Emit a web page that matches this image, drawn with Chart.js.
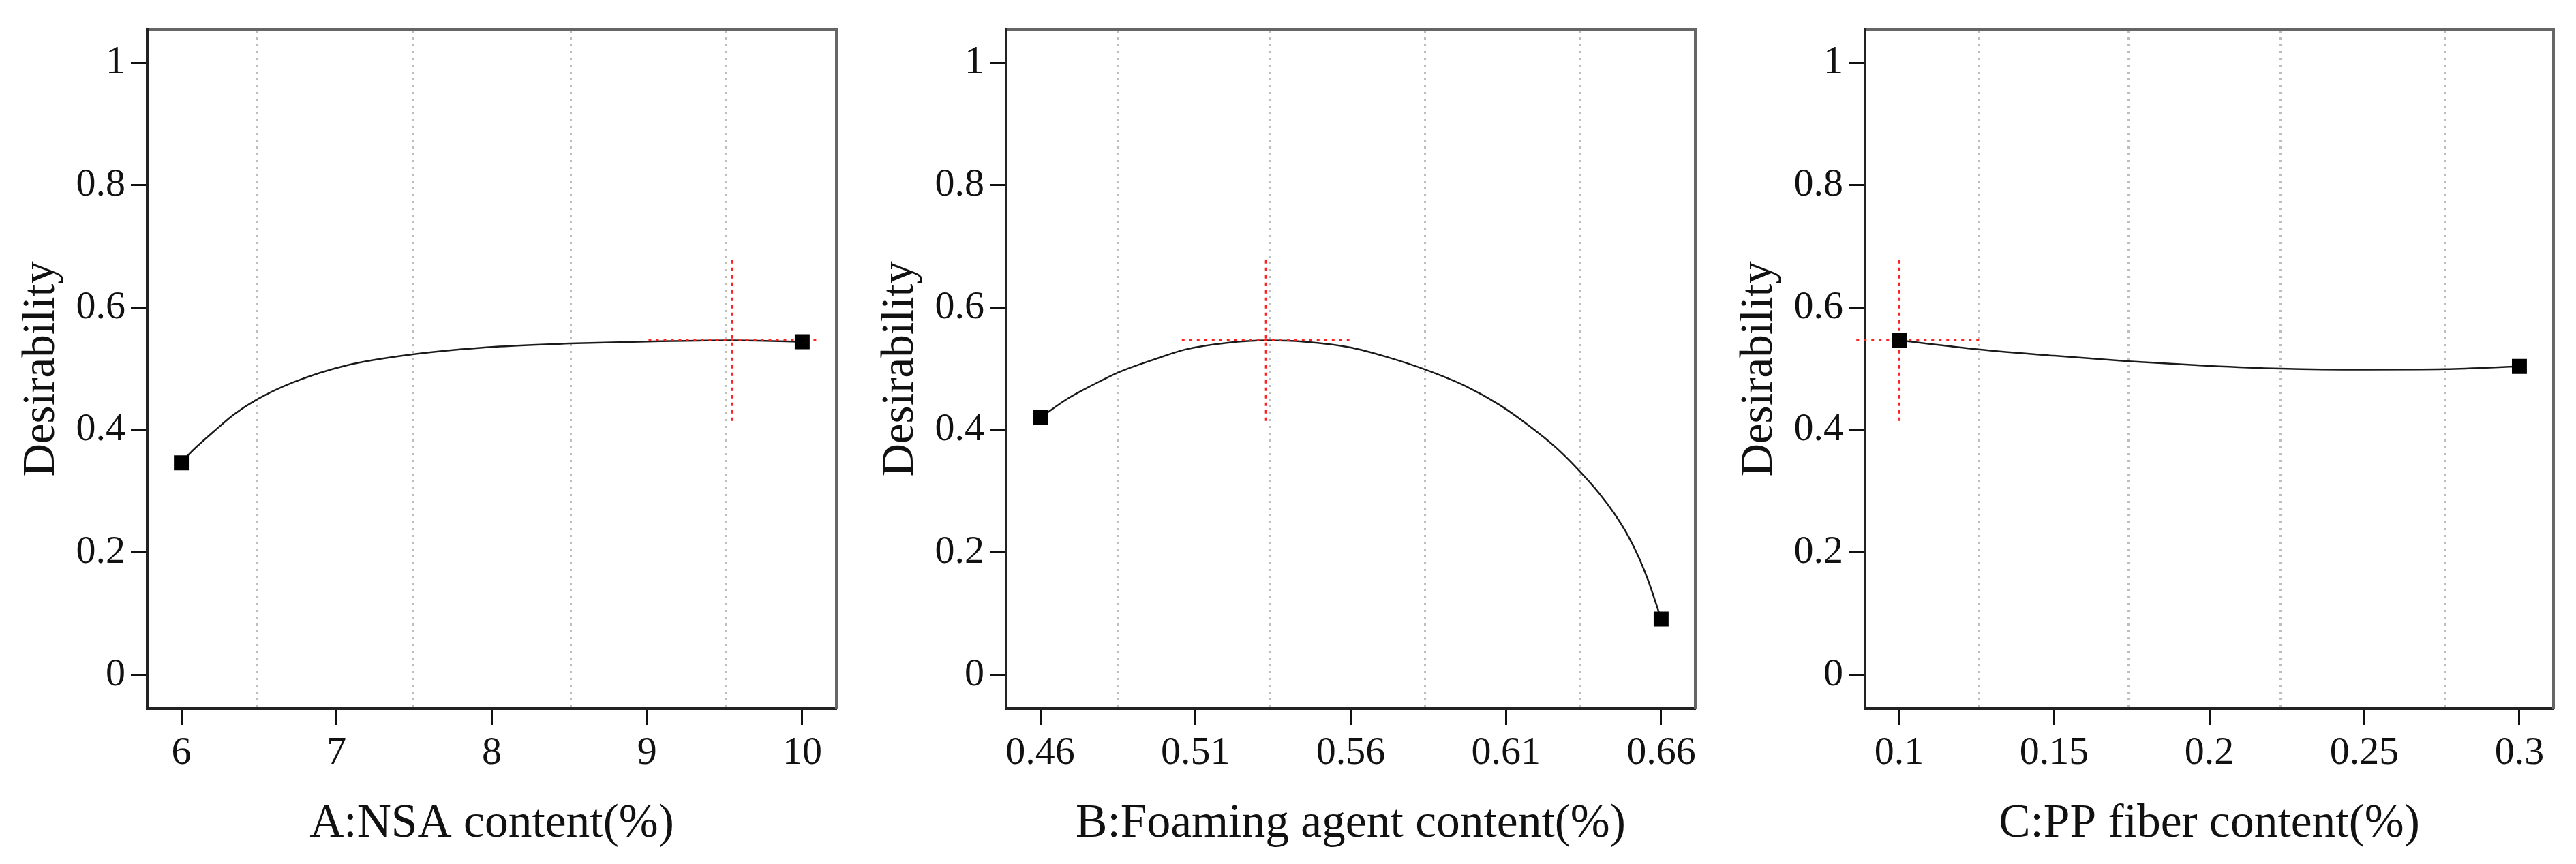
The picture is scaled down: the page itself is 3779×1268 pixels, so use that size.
<!DOCTYPE html>
<html lang="en">
<head>
<meta charset="UTF-8">
<title>Desirability response curves</title>
<script src="https://cdn.jsdelivr.net/npm/chart.js"></script>
<style>
  body { margin: 0; background: #fff; }
  .panel { position: absolute; top: 0; height: 1268px; }
  #p1 { left: 0; width: 1260px; }
  #p2 { left: 1260px; width: 1260px; }
  #p3 { left: 2520px; width: 1259px; }
</style>
</head>
<body>
<div class="panel" id="p1"><canvas id="c1"></canvas></div>
<div class="panel" id="p2"><canvas id="c2"></canvas></div>
<div class="panel" id="p3"><canvas id="c3"></canvas></div>

<script>
// shared y axis
const yTicks = [0, 0.2, 0.4, 0.6, 0.8, 1];
const yTickLabels = ['0', '0.2', '0.4', '0.6', '0.8', '1'];
const yRange = [-0.055, 1.055];
const crossY = [0.415, 0.683];   // span of the red vertical marker

// A: NSA content
const nsaTicks = [6, 7, 8, 9, 10];
const nsaLabels = ['6', '7', '8', '9', '10'];
const nsaRange = [5.78, 10.22];
const nsaGrid = [6.49, 7.49, 8.51, 9.51];
const nsaX = [6.0, 6.05, 6.21, 6.34, 6.49, 6.72, 7.06, 7.49, 8.05, 8.5, 9.0, 9.55, 10.0];
const nsaY = [0.3465, 0.361, 0.398, 0.426, 0.4505, 0.478, 0.5055, 0.5238, 0.5366, 0.5415, 0.5448, 0.5466, 0.5445];
const nsaEndX = [6, 10];
const nsaEndY = [0.3465, 0.5445];
const nsaOpt = [9.55, 0.5466];
const nsaCrossX = [9.01, 10.09];

// B: Foaming agent content
const foamTicks = [0.46, 0.51, 0.56, 0.61, 0.66];
const foamLabels = ['0.46', '0.51', '0.56', '0.61', '0.66'];
const foamRange = [0.449, 0.671];
const foamGrid = [0.485, 0.534, 0.584, 0.634];
const foamX = [0.46, 0.469, 0.477, 0.485, 0.497, 0.507, 0.52, 0.533, 0.545, 0.56, 0.572, 0.584, 0.597, 0.608,
               0.618, 0.626, 0.633, 0.640, 0.645, 0.6495, 0.653, 0.656, 0.658, 0.66];
const foamY = [0.4205, 0.452, 0.474, 0.494, 0.516, 0.532, 0.5425, 0.5466, 0.5445, 0.535, 0.519, 0.499, 0.472, 0.441,
               0.405, 0.372, 0.337, 0.297, 0.263, 0.226, 0.190, 0.152, 0.122, 0.0914];
const foamEndX = [0.46, 0.66];
const foamEndY = [0.4205, 0.0914];
const foamOpt = [0.5327, 0.5466];
const foamCrossX = [0.5056, 0.5596];

// C: PP fiber content
const ppTicks = [0.1, 0.15, 0.2, 0.25, 0.3];
const ppLabels = ['0.1', '0.15', '0.2', '0.25', '0.3'];
const ppRange = [0.089, 0.311];
const ppGrid = [0.1255, 0.174, 0.223, 0.276];
const ppX = [0.1, 0.1255, 0.15, 0.174, 0.2, 0.223, 0.25, 0.276, 0.3];
const ppY = [0.5466, 0.532, 0.5215, 0.5125, 0.505, 0.5005, 0.4988, 0.4995, 0.504];
const ppEndX = [0.1, 0.3];
const ppEndY = [0.5462, 0.504];
const ppOpt = [0.1, 0.5466];
const ppCrossX = [0.0862, 0.1265];

const SERIF = '"Liberation Serif", "Times New Roman", Times, serif';
Chart.defaults.font.family = SERIF;
Chart.defaults.color = '#111';

const pts = (xs, ys) => xs.map((x, i) => ({ x: x, y: ys[i] }));

function makePanel(canvasId, title, xTicks, xLabels, xRange, grid, cx, cy, ex, ey, opt, crossX) {
  new Chart(document.getElementById(canvasId), {
    type: 'scatter',
    data: {
      datasets: [
        { // end points
          data: pts(ex, ey), pointStyle: 'rect', pointRadius: 15.5,
          backgroundColor: '#000', borderColor: '#000', borderWidth: 0, showLine: false
        },
        { // red horizontal marker
          data: pts(crossX, [opt[1], opt[1]]), showLine: true, pointRadius: 0,
          borderColor: '#ff2020', borderWidth: 3, borderDash: [4, 7], clip: false
        },
        { // red vertical marker
          data: pts([opt[0], opt[0]], crossY), showLine: true, pointRadius: 0,
          borderColor: '#ff2020', borderWidth: 3, borderDash: [5, 6], clip: false
        },
        { // desirability curve
          data: pts(cx, cy), showLine: true, pointRadius: 0,
          borderColor: '#1a1a1a', borderWidth: 2.5, cubicInterpolationMode: 'monotone'
        }
      ]
    },
    options: {
      responsive: true,
      maintainAspectRatio: false,
      animation: false,
      layout: { padding: 0 },
      plugins: { legend: { display: false }, tooltip: { enabled: false } },
      scales: {
        x: {
          type: 'linear', position: 'bottom', min: xRange[0], max: xRange[1],
          afterBuildTicks: s => { s.ticks = xTicks.map(v => ({ value: v })); },
          afterFit: s => { s.height = 228; },
          ticks: { callback: (v, i) => xLabels[i], font: { family: SERIF, size: 58 }, padding: 7, maxRotation: 0, autoSkip: false },
          grid: { drawOnChartArea: false, tickLength: 24, tickWidth: 3, tickColor: '#111' },
          border: { color: '#222', width: 4 },
          title: { display: true, text: title, font: { family: SERIF, size: 69.5 }, padding: { top: 0, bottom: 17 } }
        },
        xt: {
          type: 'linear', position: 'top', min: xRange[0], max: xRange[1],
          afterBuildTicks: s => { s.ticks = grid.map(v => ({ value: v })); },
          afterFit: s => { s.height = 30; },
          ticks: { display: false },
          grid: { color: '#bdbdbd', lineWidth: 3, drawTicks: false },
          border: { color: '#666', width: 4, dash: [3, 7] }
        },
        y: {
          type: 'linear', position: 'left', min: yRange[0], max: yRange[1],
          afterBuildTicks: s => { s.ticks = yTicks.map(v => ({ value: v })); },
          afterFit: s => { s.width = 216; },
          ticks: { callback: (v, i) => yTickLabels[i], font: { family: SERIF, size: 58 }, padding: 8, autoSkip: false },
          grid: { drawOnChartArea: false, tickLength: 24, tickWidth: 3, tickColor: '#111' },
          border: { color: '#222', width: 4 },
          title: { display: true, text: 'Desirability', font: { family: SERIF, size: 67 }, padding: { top: 21, bottom: 0 } }
        },
        yr: {
          type: 'linear', position: 'right', min: yRange[0], max: yRange[1],
          afterFit: s => { s.width = 33; },
          ticks: { display: false },
          grid: { drawOnChartArea: false, drawTicks: false },
          border: { color: '#666', width: 4 }
        }
      }
    }
  });
}

makePanel('c1', 'A:NSA content(%)', nsaTicks, nsaLabels, nsaRange, nsaGrid,
          nsaX, nsaY, nsaEndX, nsaEndY, nsaOpt, nsaCrossX);
makePanel('c2', 'B:Foaming agent content(%)', foamTicks, foamLabels, foamRange, foamGrid,
          foamX, foamY, foamEndX, foamEndY, foamOpt, foamCrossX);
makePanel('c3', 'C:PP fiber content(%)', ppTicks, ppLabels, ppRange, ppGrid,
          ppX, ppY, ppEndX, ppEndY, ppOpt, ppCrossX);
</script>
</body>
</html>
